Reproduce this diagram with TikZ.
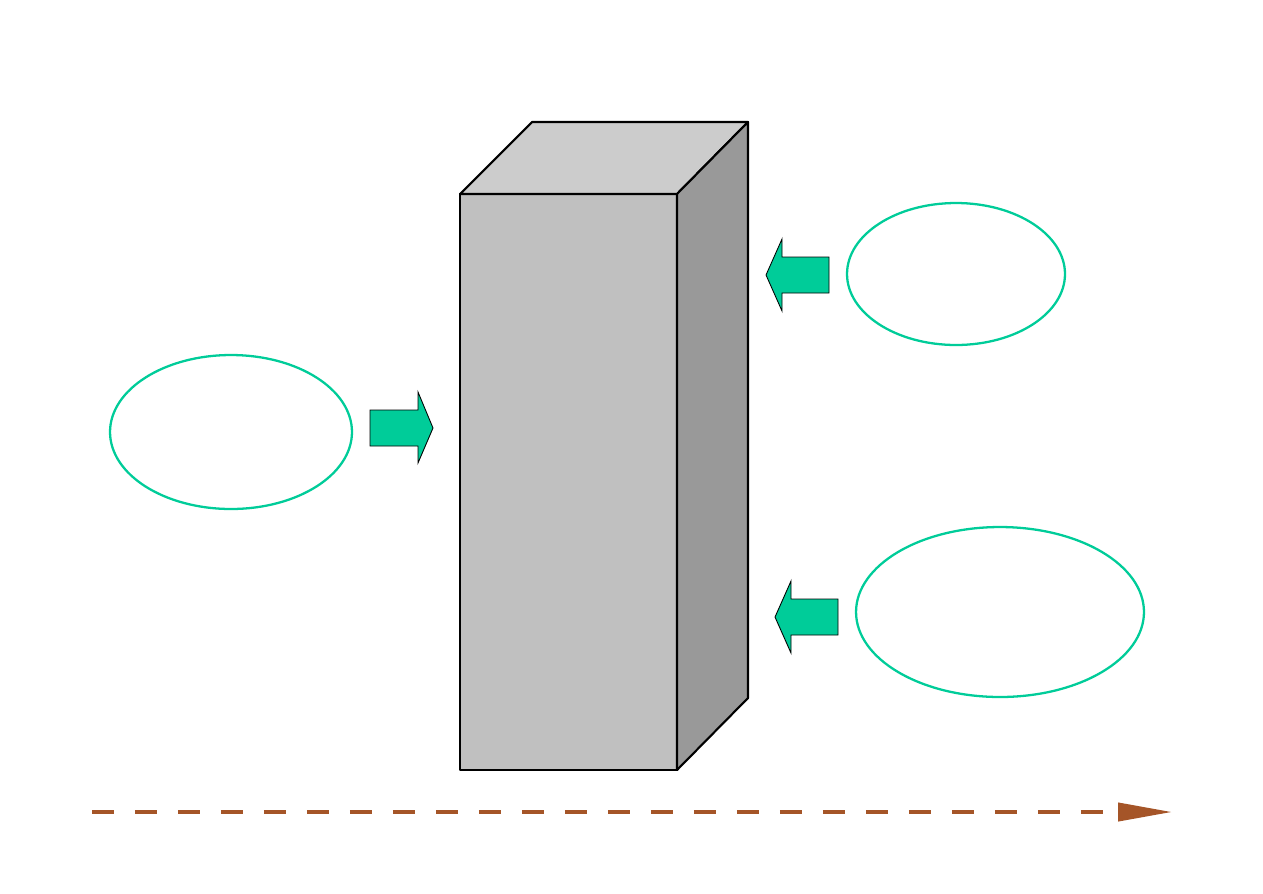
\documentclass[tikz,border=0pt]{standalone}
\usetikzlibrary{shapes.geometric,arrows.meta}
\definecolor{sea}{RGB}{0,204,153}
\definecolor{rust}{RGB}{165,85,40}
\tikzset{
  bubble/.style={draw=sea, line width=1.3pt, ellipse, inner sep=0pt},
  push/.style={fill=sea, draw=black, line width=0.5pt},
  face/.style={draw=black, line width=1.2pt, line join=round}
}
\begin{document}
\begin{tikzpicture}[x=0.02cm,y=-0.02cm]
        \useasboundingbox (0,0) rectangle (1263,893);
        % the block
        \draw[face,fill={rgb,255:red,192;green,192;blue,192}] (460,194) -- (677,194) -- (677,770) -- (460,770) -- cycle;
        \draw[face,fill={rgb,255:red,204;green,204;blue,204}] (460,194) -- (532,122) -- (748,122) -- (677,194) -- cycle;
        \draw[face,fill={rgb,255:red,153;green,153;blue,153}] (677,194) -- (748,122) -- (748,698) -- (677,770) -- cycle;

        % ellipses
        \node[bubble, minimum width=4.84cm, minimum height=3.08cm] (left) at (231,432) {};
        \node[bubble, minimum width=4.36cm, minimum height=2.84cm] (topright) at (956,274) {};
        \node[bubble, minimum width=5.76cm, minimum height=3.40cm] (lowright) at (1000,612) {};

        % block arrows
        \draw[push] (370,410) -- (418,410) -- (418,392) -- (433,428) -- (418,463) -- (418,446) -- (370,446) -- cycle;
        \draw[push] (829,257) -- (782,257) -- (782,239) -- (766,275) -- (782,311) -- (782,293) -- (829,293) -- cycle;
        \draw[push] (838,599) -- (791,599) -- (791,581) -- (775,617) -- (791,653) -- (791,635) -- (838,635) -- cycle;

        % time line
        \coordinate (start) at (92,812);
        \coordinate (stop) at (1172,812);
        \draw[rust, line width=2.3pt, dash pattern=on 0.44cm off 0.42cm,
              -{Triangle[length=1.08cm,width=0.36cm]}] (start) -- (stop);
\end{tikzpicture}
\end{document}
